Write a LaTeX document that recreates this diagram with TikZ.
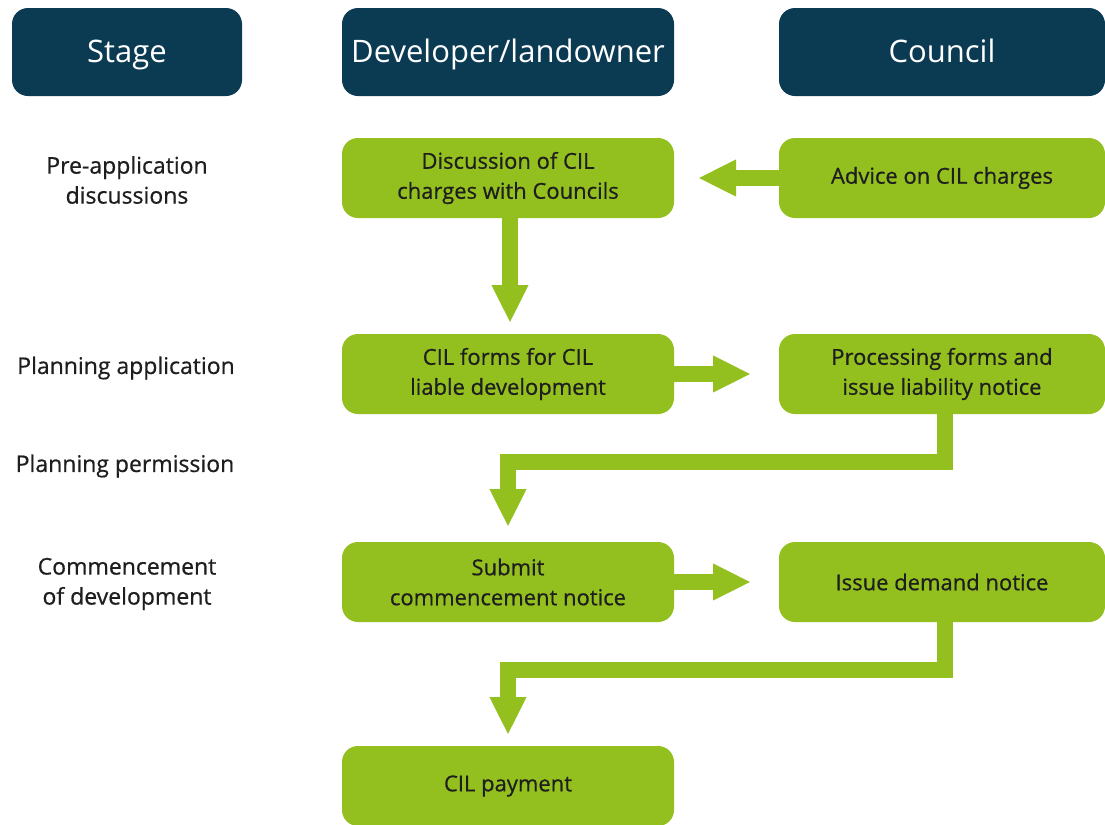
\documentclass[tikz,border=0pt]{standalone}
\usepackage{fontspec}
\setmainfont{Open Sans}
\IfFontExistsTF{Open Sans SemiBold}{\newfontfamily\semi{Open Sans SemiBold}}{\newfontfamily\semi{Open Sans}[FakeBold=0.6]}
\usetikzlibrary{arrows.meta}
\definecolor{navy}{HTML}{0B3A53}
\definecolor{lime}{HTML}{93C01F}
\definecolor{ink}{HTML}{1E1E1E}
\tikzset{
  hdr/.style={fill=navy, rounded corners=8pt, text=white, font=\fontsize{15.5}{18}\selectfont, minimum height=44pt, inner sep=0pt, text height=11.5pt, text depth=1pt},
  gbox/.style={fill=lime, rounded corners=8pt, text=ink, font=\semi\fontsize{11}{15}\selectfont, minimum height=40pt, align=center, inner sep=0pt},
  stage/.style={text=ink, font=\semi\fontsize{11.5}{15}\selectfont, align=center, inner sep=0pt},
  flow/.style={draw=lime, line width=8pt, line join=miter, -{Triangle[width=17pt,length=19pt]}}
}
\begin{document}
\begin{tikzpicture}[x=0.5pt,y=-0.5pt]
\clip (0,0) rectangle (1105,825);
% headers
\node[hdr, minimum width=115pt] (hs) at (127,52) {Stage};
\node[hdr, minimum width=166pt] (hd) at (508,52) {Developer/landowner};
\node[hdr, minimum width=163pt] (hc) at (942,52) {Council};
% stage labels
\node[stage] (s1) at (127,180) {Pre-application\\discussions};
\node[stage] (s2) at (126,368) {Planning application};
\node[stage] (s3) at (125,466) {Planning permission};
\node[stage] (s4) at (127,584) {Commencement\\of development};
% boxes
\node[gbox, minimum width=166pt] (d1) at (508,178) {Discussion of CIL\\charges with Councils};
\node[gbox, minimum width=163pt] (c1) at (942,178) {Advice on CIL charges};
\node[gbox, minimum width=166pt] (d2) at (508,374) {CIL forms for CIL\\liable development};
\node[gbox, minimum width=163pt] (c2) at (942,374) {Processing forms and\\issue liability notice};
\node[gbox, minimum width=166pt] (d3) at (508,582) {Submit\\commencement notice};
\node[gbox, minimum width=163pt] (c3) at (942,582) {Issue demand notice};
\node[gbox, minimum width=166pt] (d4) at (508,786) {CIL payment};
% connectors
\coordinate (t1) at (698,178);
\coordinate (t2) at (510,323);
\coordinate (t3) at (751,374);
\coordinate (t4) at (508,527);
\coordinate (t5) at (751,582);
\coordinate (t6) at (508,735);
\draw[flow] (c1.west |- t1) -- (t1);
\draw[flow] (d1.south -| t2) -- (t2);
\draw[flow] (d2.east |- t3) -- (t3);
\draw[flow] (c2.south -| 945,0) -- (945,462) -- (508,462) -- (t4);
\draw[flow] (d3.east |- t5) -- (t5);
\draw[flow] (c3.south -| 945,0) -- (945,670) -- (508,670) -- (t6);
\end{tikzpicture}
\end{document}
